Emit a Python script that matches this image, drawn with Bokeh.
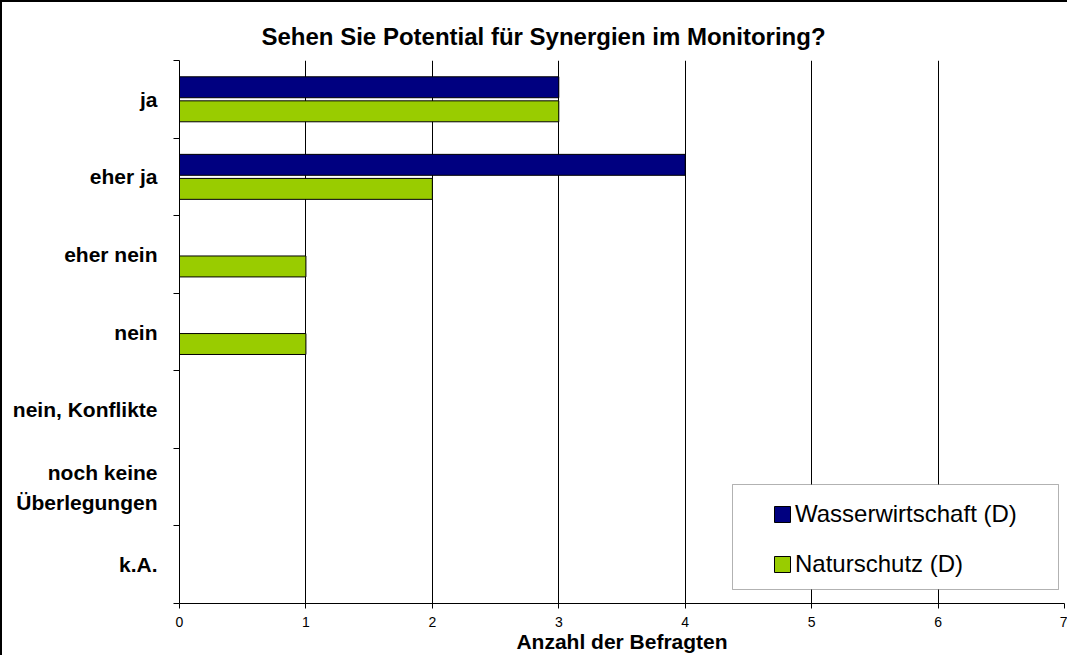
from bokeh.plotting import figure
from bokeh.models import (ColumnDataSource, FixedTicker, Range1d, Legend,
                          LegendItem, BoxAnnotation, Title)
from bokeh.transform import dodge
from bokeh.embed import file_html
from bokeh.resources import INLINE

# ---- data ----
categories = ["ja", "eher ja", "eher nein", "nein", "nein, Konflikte",
              "noch keine\nÜberlegungen", "k.A."]
wasserwirtschaft = [3, 4, 0, 0, 0, 0, 0]
naturschutz = [3, 2, 1, 1, 0, 0, 0]
x_ticks = [0, 1, 2, 3, 4, 5, 6, 7]
series_names = ["Wasserwirtschaft (D)", "Naturschutz (D)"]
title_text = "Sehen Sie Potential für Synergien im Monitoring?"
x_label = "Anzahl der Befragten"

colors = ["#000080", "#99CC00"]
FONT = "Liberation Sans"

n = len(categories)
ypos = [n - 1 - i for i in range(n)]
src = ColumnDataSource(dict(y=ypos, w=wasserwirtschaft, nat=naturschutz))

p = figure(width=1067, height=655, output_backend="svg", toolbar_location=None,
           title=None,
           x_range=Range1d(x_ticks[0], x_ticks[-1]), y_range=Range1d(-0.5, n - 0.5),
           min_border_left=179, min_border_right=3, min_border_top=60,
           min_border_bottom=51)
p.border_fill_color = None
p.background_fill_color = "white"
p.outline_line_color = None
p.styles = {"box-shadow": "inset 2px 2px 0 0 black"}

r1 = p.hbar(y=dodge("y", 0.155), right="w", left=0, height=0.27, source=src,
            fill_color=colors[0], line_color="black", line_width=1)
r2 = p.hbar(y=dodge("y", -0.155), right="nat", left=0, height=0.27, source=src,
            fill_color=colors[1], line_color="black", line_width=1)

# title
t = Title(text=title_text, align="left", offset=82, standoff=22,
          text_font=FONT, text_font_size="24px", text_font_style="bold",
          text_color="black")
p.add_layout(t, "above")

# x axis
p.xaxis.ticker = FixedTicker(ticks=x_ticks)
p.xaxis.major_tick_out = 5
p.xaxis.major_tick_in = 0
p.xaxis.minor_tick_out = 0
p.xaxis.minor_tick_in = 0
p.xaxis.axis_line_color = "black"
p.xaxis.major_tick_line_color = "black"
p.xaxis.major_label_text_font = FONT
p.xaxis.major_label_text_font_size = "14px"
p.xaxis.major_label_text_color = "black"
p.xaxis.major_label_standoff = 8
p.xaxis.axis_label = x_label
p.xaxis.axis_label_standoff = 0
p.xaxis.axis_label_text_font = FONT
p.xaxis.axis_label_text_font_size = "21px"
p.xaxis.axis_label_text_font_style = "bold"
p.xaxis.axis_label_text_color = "black"

# y axis
p.yaxis.ticker = FixedTicker(ticks=ypos, minor_ticks=[k - 0.5 for k in range(n + 1)])
p.yaxis.major_label_overrides = {y: c for y, c in zip(ypos, categories)}
p.yaxis.major_tick_out = 0
p.yaxis.major_tick_in = 0
p.yaxis.minor_tick_out = 6
p.yaxis.minor_tick_in = 0
p.yaxis.minor_tick_line_color = "black"
p.yaxis.axis_line_color = "black"
p.yaxis.major_label_text_font = FONT
p.yaxis.major_label_text_font_size = "21px"
p.yaxis.major_label_text_font_style = "bold"
p.yaxis.major_label_text_color = "black"
p.yaxis.major_label_text_line_height = 1.3
p.yaxis.major_label_standoff = 16

# grid
p.xgrid.ticker = FixedTicker(ticks=x_ticks)
p.xgrid.grid_line_color = "black"
p.xgrid.grid_line_width = 1
p.ygrid.visible = False

# legend frame + legend
box = BoxAnnotation(left=553, right=879, bottom=14, top=119,
                    left_units="screen", right_units="screen",
                    bottom_units="screen", top_units="screen",
                    fill_color="white", fill_alpha=1.0,
                    line_color="black", line_width=1)
p.add_layout(box)

legend = Legend(items=[LegendItem(label=series_names[0], renderers=[r1]),
                       LegendItem(label=series_names[1], renderers=[r2])],
                location=(593, 25), padding=0, spacing=22, margin=0,
                glyph_width=20, glyph_height=20, label_standoff=3,
                label_height=28,
                label_text_font=FONT, label_text_font_size="24px",
                label_text_color="black",
                border_line_alpha=0, background_fill_alpha=0)
p.add_layout(legend)

open("out.html", "w").write(file_html(p, INLINE))
